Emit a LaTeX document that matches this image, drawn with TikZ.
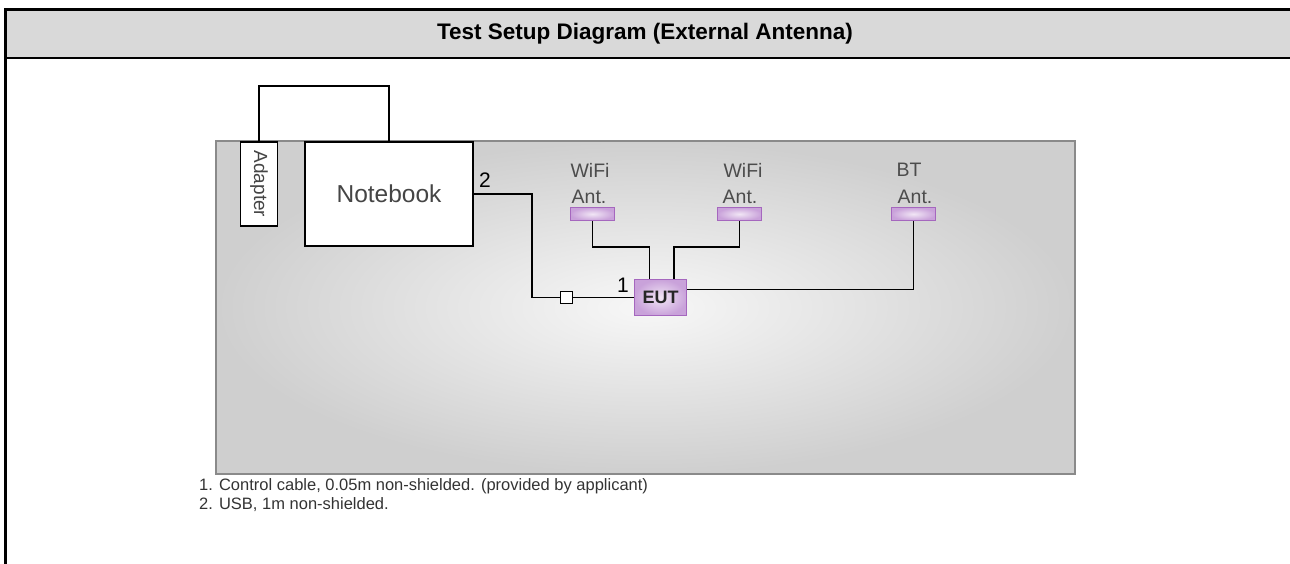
\documentclass[tikz,border=0pt]{standalone}
\usepackage{fontspec}
\setmainfont{Liberation Sans}
\usetikzlibrary{positioning}

\definecolor{headgray}{HTML}{D9D9D9}
\definecolor{benchedge}{HTML}{8A8A8A}
\definecolor{benchout}{HTML}{CFCFCF}
\definecolor{benchin}{HTML}{F7F7F7}
\definecolor{eutlight}{HTML}{F1E6F5}
\definecolor{eutfill}{HTML}{C9A2DA}
\definecolor{eutedge}{HTML}{A567BE}
\definecolor{textgray}{HTML}{454545}

\tikzset{
  unit/.style={draw=black, line width=1.6pt, fill=white, inner sep=0pt, text=textgray},
  eutbox/.style={draw=eutedge, line width=1.5pt, inner color=eutlight, outer color=eutfill, inner sep=0pt},
  antbar/.style={eutbox, minimum width=44, minimum height=13},
  antlabel/.style={text=black!70, font=\fontsize{19.5}{21}\selectfont, inner sep=0pt},
  wire/.style={line width=1.7pt},
  cablenum/.style={font=\fontsize{21}{23}\selectfont, inner sep=0pt},
  note/.style={anchor=base west, text=black!80, font=\fontsize{16.5}{19}\selectfont, inner sep=0pt}
}

\begin{document}
\begin{tikzpicture}[x=1pt,y=-1pt]
	\useasboundingbox (0,0) rectangle (1290,564);
	% table frame and header
	\fill[headgray] (5,9) rectangle (1290,58);
	\draw[line width=3pt] (1290,9.3) -- (5.3,9.3) -- (5.3,564);
	\draw[line width=2.7pt] (5.3,58) -- (1290,58);
	\node[font=\bfseries\fontsize{22.5}{26}\selectfont] (title) at (645,34) {Test Setup Diagram (External Antenna)};

	% test table
	\node[draw=benchedge, line width=1.6pt, inner color=benchin, outer color=benchout,
		minimum width=859, minimum height=333] (bench) at (645.5,307.5) {};

	% equipment
	\node[unit, minimum width=37, minimum height=84] (adapter) at (259,184)
		{\rotatebox{-90}{\fontsize{19}{21}\selectfont Adapter}};
	\node[unit, minimum width=168, minimum height=104, font=\fontsize{24.5}{27}\selectfont] (notebook) at (389,194) {Notebook};
	\node[eutbox, minimum width=52, minimum height=36, font=\bfseries\fontsize{18}{20}\selectfont, text=black!85] (eut) at (660.5,297.5) {EUT};
	\node[draw=black, line width=1.3pt, fill=white, minimum size=12, inner sep=0pt] (plug) at (566.5,297.5) {};

	% antennas
	\node[antbar] (wifia) at (592.5,214) {};
	\node[antbar] (wifib) at (739.5,214) {};
	\node[antbar] (bt) at (913.5,214) {};
	\node[antlabel] (wifiatop) at (590,170) {WiFi};
	\node[antlabel] (wifiabot) at (589,197) {Ant.};
	\node[antlabel] (wifibtop) at (743,170) {WiFi};
	\node[antlabel] (wifibbot) at (740,197) {Ant.};
	\node[antlabel] (bttop) at (909,170) {BT};
	\node[antlabel] (btbot) at (915,197) {Ant.};

	% cables
	\draw[wire] (adapter.north) -- ++(0,-55) -| (notebook.north);
	\coordinate (usbbend) at (532,297.5);
	\draw[wire] (notebook.east) -| (usbbend) -- (plug.west);
	\draw[wire] (plug.east) -- (eut.west);
	\draw[wire] (wifia.south) -- ++(0,26) -| ([xshift=-11]eut.north);
	\draw[wire] (wifib.south) -- ++(0,26) -| ([xshift=13.5]eut.north);
	\draw[wire] (bt.south) |- ([yshift=8]eut.east);
	\node[cablenum] (numtwo) at (485,180) {2};
	\node[cablenum] (numone) at (623,285) {1};

	% notes
	\node[note] (noteone) at (199,490) {1. Control cable, 0.05m non-shielded. (provided by applicant)};
	\node[note] (notetwo) at (199,509) {2. USB, 1m non-shielded.};
\end{tikzpicture}
\end{document}
